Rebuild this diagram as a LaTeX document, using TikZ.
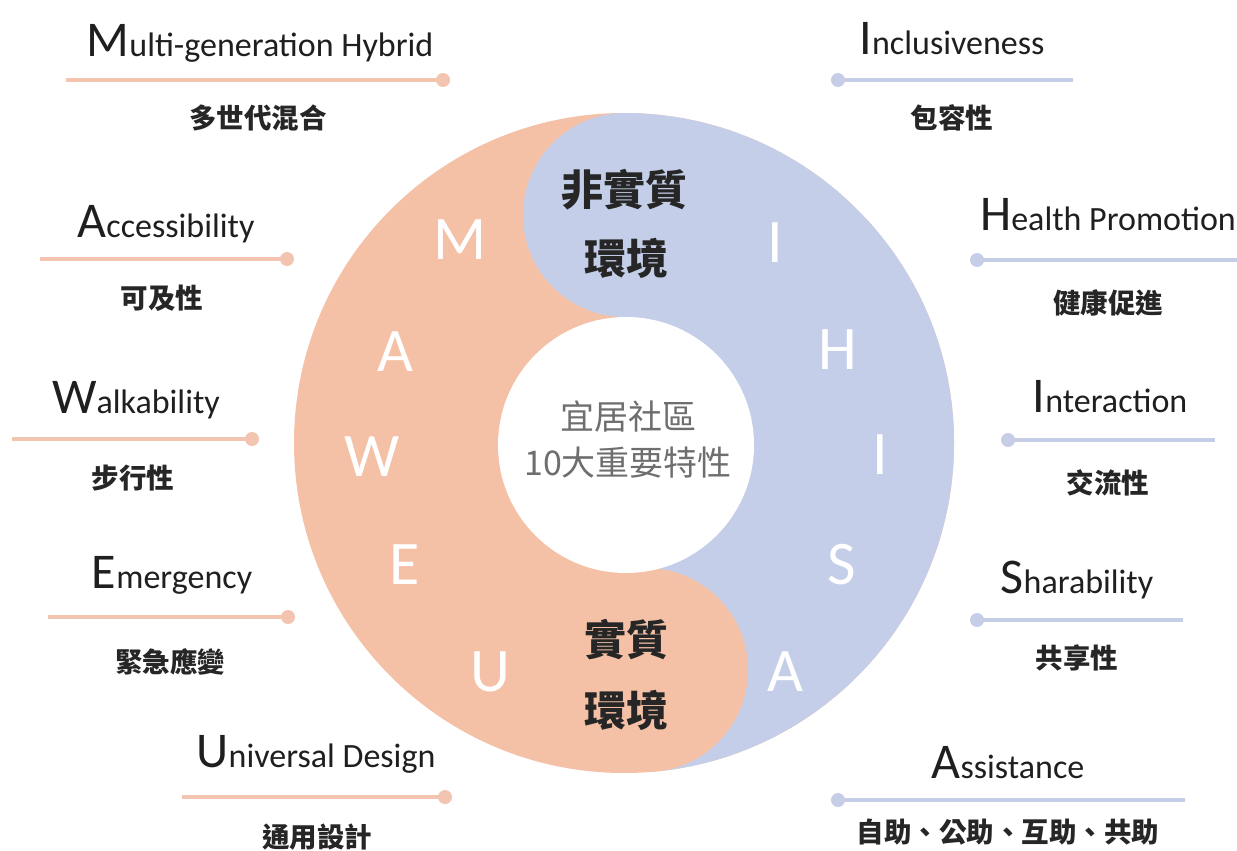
\documentclass[tikz,border=0pt]{standalone}
\usepackage{fontspec}
\setmainfont{Carlito}
\newfontfamily\cjk{Noto Sans CJK TC}
\usetikzlibrary{positioning}

\definecolor{peach}{HTML}{F5C1A6}
\definecolor{lavblue}{HTML}{C4CEE9}
\definecolor{peachline}{HTML}{F3C5B0}
\definecolor{blueline}{HTML}{C6CDE7}
\definecolor{inkgray}{HTML}{6E6E6E}

% big first letter, rest of the word smaller
\newcommand{\capword}[2]{{\fontsize{50}{50}\selectfont #1}{\fontsize{34}{34}\selectfont #2}}

\begin{document}
\begin{tikzpicture}[x=1pt,y=-1pt,
	title/.style={inner sep=0pt, anchor=base, text=black!88},
	zh/.style={inner sep=0pt, text=black!85, font=\cjk\bfseries\fontsize{27.5}{28}\selectfont},
	ring/.style={inner sep=0pt, text=white, font=\fontsize{62}{62}\selectfont},
	core/.style={inner sep=0pt, text=black!85, font=\cjk\bfseries\fontsize{42}{42}\selectfont},
	mid/.style={inner sep=0pt, text=inkgray, font=\cjk\fontsize{34}{34}\selectfont},
	pline/.style={draw=peachline, line width=4pt},
	bline/.style={draw=blueline, line width=4pt}]
	\useasboundingbox (0,0) rectangle (1237,851);

	% the ring
	\fill[peach] (624,443) circle (330pt);
	\begin{scope}
		\clip (624,443) circle (330pt);
		\fill[lavblue] (625,0) -- (1000,0) -- (1000,900) -- (660,900) -- (660,560) -- (625,560) -- cycle;
		\fill[lavblue] (625,215) circle (102pt);
		\fill[peach] (646,670) circle (102pt);
	\end{scope}
	\fill[white] (626,445) circle (128pt);

	% letters on the ring
	\node[ring] (rM) at (460,240) {M};
	\node[ring] (rA) at (395,352) {A};
	\node[ring] (rW) at (372,457) {W};
	\node[ring] (rE) at (405,565) {E};
	\node[ring] (rU) at (490,672) {U};
	\node[ring] (rI) at (775,243) {I};
	\node[ring] (rH) at (838,350) {H};
	\node[ring] (rJ) at (880,455) {I};
	\node[ring] (rS) at (842,565) {S};
	\node[ring] (rB) at (785,672) {A};

	% middle texts
	\node[core] (soft1) at (624,190) {非實質};
	\node[core] (soft2) at (626,258) {環境};
	\node[core] (hard1) at (626,640) {實質};
	\node[core] (hard2) at (626,710) {環境};
	\node[mid] (mid1) at (628,417) {宜居社區};
	\node[mid] (mid2) at (628,463) {10大重要特性};

	% left side
	\node[title] (tM) at (260,57) {\capword{M}{ulti-generation Hybrid}};
	\coordinate (mA) at (66,80);
	\coordinate (mB) at (443,80);
	\draw[pline] (mA) -- (mB);
	\fill[peachline] (mB) circle (7pt);
	\node[zh] (zM) at (258,118) {多世代混合};

	\node[title] (tA) at (166,237) {\capword{A}{ccessibility}};
	\coordinate (aA) at (40,259);
	\coordinate (aB) at (287,259);
	\draw[pline] (aA) -- (aB);
	\fill[peachline] (aB) circle (7pt);
	\node[zh] (zA) at (162,298) {可及性};

	\node[title] (tW) at (136,413) {\capword{W}{alkability}};
	\coordinate (wA) at (12,439);
	\coordinate (wB) at (252,439);
	\draw[pline] (wA) -- (wB);
	\fill[peachline] (wB) circle (7pt);
	\node[zh] (zW) at (133,478) {步行性};

	\node[title] (tE) at (172,588) {\capword{E}{mergency}};
	\coordinate (eA) at (48,617);
	\coordinate (eB) at (288,617);
	\draw[pline] (eA) -- (eB);
	\fill[peachline] (eB) circle (7pt);
	\node[zh] (zE) at (170,662) {緊急應變};

	\node[title] (tU) at (316,767) {\capword{U}{niversal Design}};
	\coordinate (uA) at (182,797);
	\coordinate (uB) at (445,797);
	\draw[pline] (uA) -- (uB);
	\fill[peachline] (uB) circle (7pt);
	\node[zh] (zU) at (317,837) {通用設計};

	% right side
	\node[title] (tI) at (952,55) {\capword{I}{nclusiveness}};
	\coordinate (iA) at (838,80);
	\coordinate (iB) at (1073,80);
	\draw[bline] (iA) -- (iB);
	\fill[blueline] (iA) circle (7pt);
	\node[zh] (zI) at (952,118) {包容性};

	\node[title] (tH) at (1108,230) {\capword{H}{ealth Promotion}};
	\coordinate (hA) at (977,260);
	\coordinate (hB) at (1237,260);
	\draw[bline] (hA) -- (hB);
	\fill[blueline] (hA) circle (7pt);
	\node[zh] (zH) at (1108,303) {健康促進};

	\node[title] (tJ) at (1110,412) {\capword{I}{nteraction}};
	\coordinate (jA) at (1008,440);
	\coordinate (jB) at (1215,440);
	\draw[bline] (jA) -- (jB);
	\fill[blueline] (jA) circle (7pt);
	\node[zh] (zJ) at (1108,483) {交流性};

	\node[title] (tS) at (1077,593) {\capword{S}{harability}};
	\coordinate (sA) at (977,620);
	\coordinate (sB) at (1183,620);
	\draw[bline] (sA) -- (sB);
	\fill[blueline] (sA) circle (7pt);
	\node[zh] (zS) at (1077,658) {共享性};

	\node[title] (tB) at (1008,778) {\capword{A}{ssistance}};
	\coordinate (bA) at (838,800);
	\coordinate (bB) at (1185,800);
	\draw[bline] (bA) -- (bB);
	\fill[blueline] (bA) circle (7pt);
	\node[zh] (zB) at (1008,832) {自助、公助、互助、共助};
\end{tikzpicture}
\end{document}
